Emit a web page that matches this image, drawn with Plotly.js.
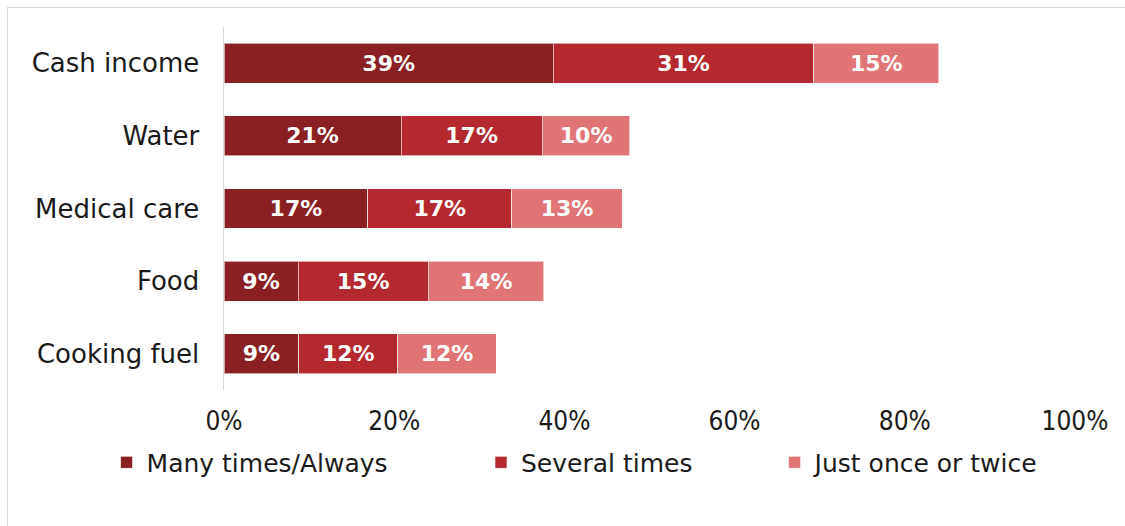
<!DOCTYPE html>
<html>
<head>
<meta charset="utf-8">
<script src="https://cdn.plot.ly/plotly-3.0.1.min.js"></script>
<style>
  html, body { margin: 0; padding: 0; background: #ffffff; }
  #wrap { position: relative; width: 1125px; height: 526px; overflow: hidden; }
  #chart { position: absolute; left: 0; top: 0; width: 1125px; height: 526px; }
  #frame { position: absolute; left: 7px; top: 7px; width: 1130px; height: 540px;
           border-left: 1.5px solid #d9d9d9; border-top: 1.5px solid #d9d9d9; pointer-events: none; }
</style>
</head>
<body>
<div id="wrap">
  <div id="chart"></div>
  <div id="frame"></div>
</div>
<script>
const categories = ["Cash income", "Water", "Medical care", "Food", "Cooking fuel"];
const seriesNames = ["Many times/Always", "Several times", "Just once or twice"];
const manyTimes = [38.7, 20.8, 16.9, 8.7, 8.8];
const severalTimes = [30.6, 16.6, 16.9, 15.3, 11.6];
const justOnce = [14.7, 10.3, 13.0, 13.6, 11.6];
const xTickValues = [0, 20, 40, 60, 80, 100];
const xTickLabels = ["0%", "20%", "40%", "60%", "80%", "100%"];
const colors = ["#8a1f24", "#b3292f", "#e07476"];

const seriesValues = [manyTimes, severalTimes, justOnce];
const legendIds = ["legend", "legend2", "legend3"];

const traces = seriesValues.map((vals, i) => ({
  type: "bar",
  orientation: "h",
  name: seriesNames[i],
  y: categories,
  x: vals,
  marker: { color: colors[i], line: { color: "rgba(255,255,255,0.6)", width: 1 } },
  texttemplate: "%{x:.0f}%",
  textposition: "inside",
  insidetextanchor: "middle",
  textangle: 0,
  constraintext: "none",
  textfont: { family: "DejaVu Sans", size: 22, color: "#ffffff", weight: "bold" },
  hoverinfo: "skip",
  legend: legendIds[i]
}));

const legendFont = { family: "DejaVu Sans", size: 25, color: "#1a1a1a" };
const legendBase = { orientation: "h", yanchor: "middle", xanchor: "left", y: -0.2,
  font: legendFont, bgcolor: "rgba(0,0,0,0)", borderwidth: 0, itemclick: false };

const layout = {
  width: 1125,
  height: 526,
  margin: { l: 224, r: 50, t: 27, b: 136 },
  paper_bgcolor: "rgba(0,0,0,0)",
  plot_bgcolor: "rgba(0,0,0,0)",
  barmode: "stack",
  bargap: 0.45,
  showlegend: true,
  xaxis: {
    range: [0, 100],
    tickvals: xTickValues,
    ticktext: xTickLabels,
    showgrid: false,
    zeroline: false,
    showline: false,
    ticks: "",
    ticklabelstandoff: 13,
    tickfont: { family: "DejaVu Sans Condensed, DejaVu Sans", size: 26, color: "#1a1a1a" },
    fixedrange: true
  },
  yaxis: {
    autorange: "reversed",
    type: "category",
    showgrid: false,
    zeroline: false,
    showline: true,
    linecolor: "#d9d9d9",
    linewidth: 1.5,
    ticks: "",
    ticklabelstandoff: 18,
    tickfont: { family: "DejaVu Sans", size: 26, color: "#1a1a1a" },
    fixedrange: true
  },
  legend: Object.assign({}, legendBase, { x: -0.138 }),
  legend2: Object.assign({}, legendBase, { x: 0.302 }),
  legend3: Object.assign({}, legendBase, { x: 0.647 })
};

Plotly.newPlot("chart", traces, layout, { displayModeBar: false, staticPlot: true });
</script>
</body>
</html>
